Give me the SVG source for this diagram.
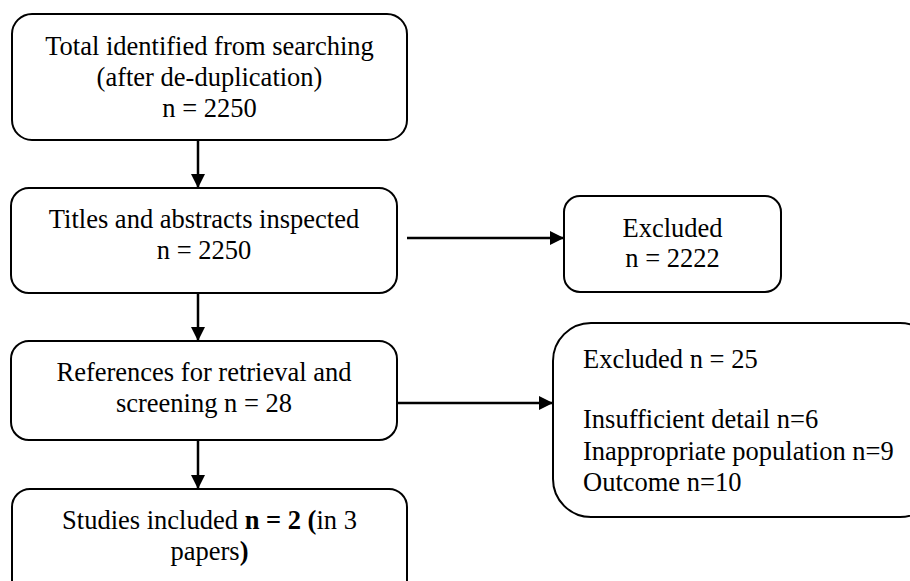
<svg xmlns="http://www.w3.org/2000/svg" width="910" height="581" viewBox="0 0 910 581">
<style>
.box{fill:#fff;stroke:#000;stroke-width:2}
.t{font-family:"Liberation Serif","Times New Roman",serif;font-size:26.5px;fill:#000}
.c{text-anchor:middle}
.b{font-weight:bold}
.ln{stroke:#000;stroke-width:2.5;fill:none}
</style>
<defs>
<marker id="ah" viewBox="0 0 10 10" refX="10" refY="5" markerWidth="14" markerHeight="14" markerUnits="userSpaceOnUse" orient="auto">
<path d="M0,0 L10,5 L0,10 z" fill="#000"/>
</marker>
</defs>
<rect width="910" height="581" fill="#fff"/>
<g id="connectors">
<line class="ln" x1="198" y1="140" x2="198" y2="188" marker-end="url(#ah)"/>
<line class="ln" x1="198" y1="293" x2="198" y2="341" marker-end="url(#ah)"/>
<line class="ln" x1="198" y1="440" x2="198" y2="489" marker-end="url(#ah)"/>
<line class="ln" x1="407" y1="238" x2="564" y2="238" marker-end="url(#ah)"/>
<line class="ln" x1="397" y1="403" x2="553" y2="403" marker-end="url(#ah)"/>
</g>
<g id="n1">
<rect class="box" x="12" y="14" width="395" height="126" rx="20"/>
<text class="t c" x="209.5" y="55">Total identified from searching</text>
<text class="t c" x="209.5" y="86">(after de-duplication)</text>
<text class="t c" x="209.5" y="117">n = 2250</text>
</g>
<g id="n2">
<rect class="box" x="11" y="188" width="386" height="105" rx="18"/>
<text class="t c" x="204" y="228">Titles and abstracts inspected</text>
<text class="t c" x="204" y="259">n = 2250</text>
</g>
<g id="n3">
<rect class="box" x="564" y="196" width="217" height="96" rx="16"/>
<text class="t c" x="672.5" y="237">Excluded</text>
<text class="t c" x="672.5" y="267">n = 2222</text>
</g>
<g id="n4">
<rect class="box" x="11" y="341" width="386" height="99" rx="18"/>
<text class="t c" x="204" y="381">References for retrieval and</text>
<text class="t c" x="204" y="412">screening n = 28</text>
</g>
<g id="n5">
<rect class="box" x="553" y="323" width="385" height="194" rx="38"/>
<text class="t" x="583" y="368">Excluded n = 25</text>
<text class="t" x="583" y="428">Insufficient detail n=6</text>
<text class="t" x="583" y="460">Inappropriate population n=9</text>
<text class="t" x="583" y="491">Outcome n=10</text>
</g>
<g id="n6">
<rect class="box" x="12" y="489" width="395" height="110" rx="18"/>
<text class="t c" x="209.5" y="529">Studies included <tspan class="b">n = 2</tspan> <tspan class="b">(</tspan>in 3</text>
<text class="t c" x="209.5" y="560">papers<tspan class="b">)</tspan></text>
</g>
</svg>
